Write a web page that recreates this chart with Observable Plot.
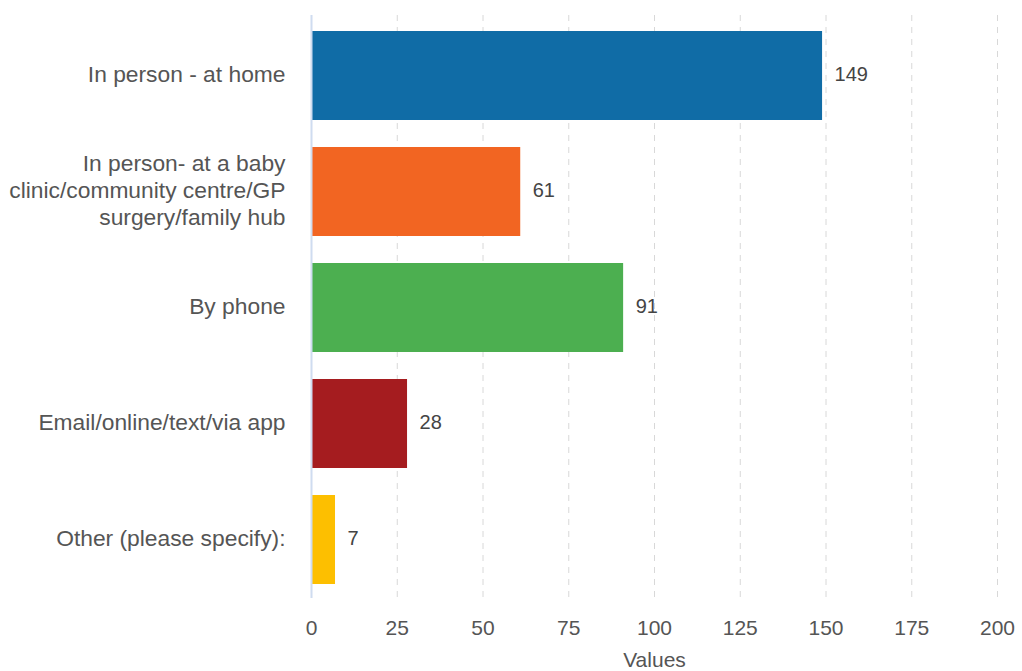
<!DOCTYPE html>
<html>
<head>
<meta charset="utf-8">
<script src="https://cdn.jsdelivr.net/npm/d3@7"></script>
<script src="https://cdn.jsdelivr.net/npm/@observablehq/plot@0.6"></script>
<style>
  html, body { margin: 0; padding: 0; background: #fff; }
  #chart svg { display: block; }
</style>
</head>
<body>
<div id="chart"></div>
<script>
const categories = [
  "In person - at home",
  "In person- at a baby\nclinic/community centre/GP\nsurgery/family hub",
  "By phone",
  "Email/online/text/via app",
  "Other (please specify):"
];
const values = [149, 61, 91, 28, 7];
const colors = ["#106ca6", "#f26522", "#4caf50", "#a51c1f", "#fdbf00"];
const xTicks = [0, 25, 50, 75, 100, 125, 150, 175, 200];

const data = categories.map((c, i) => ({category: c, value: values[i], color: colors[i]}));

const chart = Plot.plot({
  width: 1022,
  height: 671,
  marginLeft: 311,
  marginRight: 25,
  marginTop: 15,
  marginBottom: 73,
  style: {fontFamily: "Liberation Sans, Arial, sans-serif", background: "#fff"},
  x: {domain: [0, 200]},
  y: {domain: categories, padding: 0},
  color: {type: "identity"},
  marks: [
    Plot.gridX(xTicks, {stroke: "#d8d8d8", strokeOpacity: 1, strokeDasharray: "6,6", strokeWidth: 1}),
    Plot.barX(data, {y: "category", x: "value", fill: "color", insetTop: 14, insetBottom: 13}),
    Plot.ruleX([0], {stroke: "#cfdcf0", strokeWidth: 2}),
    Plot.text(data, {y: "category", x: "value", text: d => String(d.value), dx: 12, dy: -1, textAnchor: "start", fontSize: 20, fill: "#444"}),
    Plot.axisX(xTicks, {tickSize: 0, tickPadding: 22, fontSize: 21, color: "#555", label: "Values", labelAnchor: "center", labelOffset: 68, labelArrow: "none"}),
    Plot.axisY({tickSize: 0, tickPadding: 26, fontSize: 22.8, color: "#555", lineHeight: 1.18, dy: -2, label: null})
  ]
});
document.getElementById("chart").appendChild(chart);
</script>
</body>
</html>
